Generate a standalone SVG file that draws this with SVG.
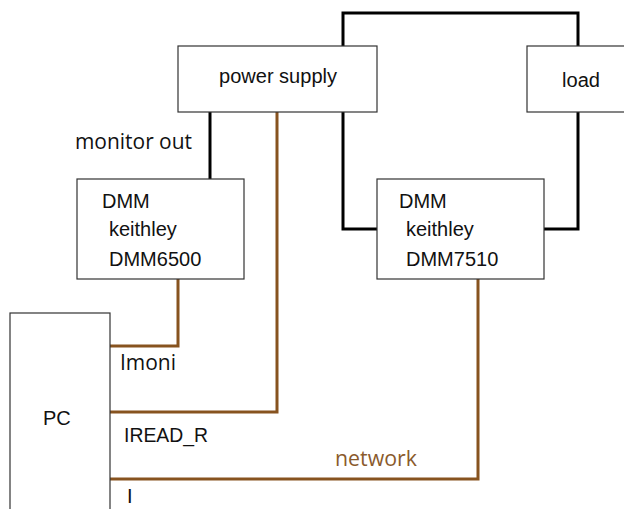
<svg xmlns="http://www.w3.org/2000/svg" width="624" height="509" viewBox="0 0 624 509">
<style>
.box{fill:#fff;stroke:#333;stroke-width:1.2}
.blk{fill:none;stroke:#000;stroke-width:3;stroke-linejoin:miter}
.brn{fill:none;stroke:#87531f;stroke-width:3;stroke-linejoin:miter}
.t{font-family:"Liberation Sans",Arial,sans-serif;font-size:20px;fill:#111}
.c{font-family:"Open Sans","Noto Sans",sans-serif;font-size:21.5px;fill:#111}
.n{fill:#8a5a2c}
</style>
<rect width="624" height="509" fill="#fff"/>
<g id="connectors">
<polyline class="blk" points="343,46 343,13 578,13 578,46"/>
<polyline class="blk" points="343,112 343,229 377,229"/>
<polyline class="blk" points="544,229 578,229 578,112"/>
<line class="blk" x1="210" y1="112" x2="210" y2="179"/>
<polyline class="brn" points="178,279 178,346 110,346"/>
<polyline class="brn" points="277,112 277,412 110,412"/>
<polyline class="brn" points="478,279 478,479 110,479"/>
<text class="c" x="75" y="149" textLength="117" lengthAdjust="spacingAndGlyphs">monitor out</text>
<text class="c" x="120" y="370" textLength="56" lengthAdjust="spacingAndGlyphs">Imoni</text>
<text class="t" x="124" y="442" textLength="84" lengthAdjust="spacingAndGlyphs">IREAD_R</text>
<text class="c n" x="335" y="466" textLength="82" lengthAdjust="spacingAndGlyphs">network</text>
<text class="t" x="127" y="503">I</text>
</g>
<g id="power-supply">
<rect class="box" x="178" y="46" width="199" height="66"/>
<text class="t" x="219" y="83" textLength="118" lengthAdjust="spacingAndGlyphs">power supply</text>
</g>
<g id="load">
<rect class="box" x="527" y="46" width="110" height="66"/>
<text class="t" x="562" y="87" textLength="38" lengthAdjust="spacingAndGlyphs">load</text>
</g>
<g id="dmm6500">
<rect class="box" x="77" y="179" width="167" height="100"/>
<text class="t" x="102" y="208">DMM</text>
<text class="t" x="109" y="236">keithley</text>
<text class="t" x="109" y="266">DMM6500</text>
</g>
<g id="dmm7510">
<rect class="box" x="377" y="179" width="167" height="100"/>
<text class="t" x="399" y="208">DMM</text>
<text class="t" x="406" y="236">keithley</text>
<text class="t" x="406" y="266">DMM7510</text>
</g>
<g id="pc">
<rect class="box" x="10" y="313" width="100" height="210"/>
<text class="t" x="43" y="425">PC</text>
</g>
</svg>
